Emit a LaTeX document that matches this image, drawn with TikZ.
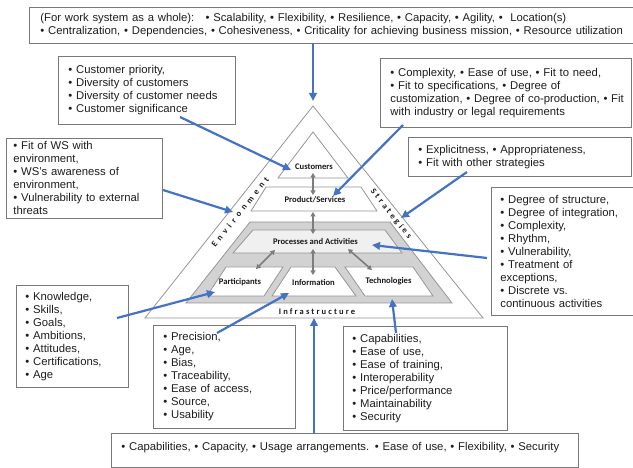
\documentclass[tikz,border=0pt]{standalone}
\usepackage{fontspec}
\setmainfont{Liberation Sans}
\newfontfamily\labelfont{Carlito}
\usetikzlibrary{arrows.meta}

\definecolor{wsblue}{RGB}{68,114,196}
\definecolor{boxgray}{RGB}{120,120,120}
\definecolor{linegray}{RGB}{150,150,150}
\definecolor{bandgray}{RGB}{210,210,210}
\definecolor{procgray}{RGB}{240,240,240}
\definecolor{linkgray}{RGB}{125,125,125}
\definecolor{textgray}{RGB}{30,30,30}

\begin{document}
\begin{tikzpicture}[x=1pt, y=-1pt,
    attrbox/.style={draw=boxgray, fill=white, line width=0.9pt, anchor=north west, align=left,
        inner ysep=0pt, inner xsep=#1, text=textgray, font=\fontsize{11.3}{13}\selectfont},
    attrbox/.default=10pt,
    part/.style={draw=linegray, line width=0.8pt, fill=white},
    partlabel/.style={font=\labelfont\bfseries\fontsize{8.6}{10}\selectfont, text=black!90, inner sep=1pt},
    sidelabel/.style={font=\labelfont\bfseries\fontsize{8.5}{10}\selectfont\addfontfeature{LetterSpace=#1},
        text=black!90, inner sep=1pt},
    link/.style={draw=linkgray, line width=1.6pt, {Triangle[length=4.5pt,width=5pt]}-{Triangle[length=4.5pt,width=5pt]}},
    pointer/.style={draw=wsblue, line width=2.2pt, -{Triangle[length=8pt,width=7.5pt]}}]

    \useasboundingbox (0,0) rectangle (633,468);
    \fill[white] (0,0) rectangle (633,468);

    % pyramid
    \draw[part] (313,106) -- (483,318) -- (145,318) -- cycle;
    \draw[part, fill=bandgray] (250,222) -- (390,222) -- (452,303) -- (186,303) -- cycle;
    \draw[part, fill=procgray] (253,230) -- (385,230) -- (402,253) -- (233,253) -- cycle;
    \draw[part] (313,132) -- (348,178) -- (278,178) -- cycle;
    \draw[part] (266,187) -- (361,187) -- (377,211) -- (251,211) -- cycle;
    \draw[part] (226,267) -- (283,267) -- (264,296) -- (207,296) -- cycle;
    \draw[part] (291,267) -- (335,267) -- (356,296) -- (272,296) -- cycle;
    \draw[part] (345,267) -- (413,267) -- (433,296) -- (365,296) -- cycle;

    \node[partlabel] (cust) at (314,167) {Customers};
    \node[partlabel] (prod) at (315,200) {Product/Services};
    \node[partlabel] (proc) at (315.5,242) {Processes and Activities};
    \node[partlabel] (part) at (240,282) {Participants};
    \node[partlabel] (info) at (313.5,282.5) {Information};
    \node[partlabel] (tech) at (388.5,281.5) {Technologies};

    \node[sidelabel=49, rotate=51.6] (env) at (240,212) {Environment};
    \node[sidelabel=34, rotate=-51.6] (strat) at (391,214) {Strategies};
    \node[sidelabel=25] (infra) at (317,312) {Infrastructure};

    % links inside the pyramid
    \coordinate (L1a) at (313,173); \coordinate (L1b) at (313,195);
    \coordinate (L2a) at (313,212); \coordinate (L2b) at (313,234);
    \coordinate (L3a) at (313,249); \coordinate (L3b) at (313,275);
    \coordinate (L4a) at (275,250); \coordinate (L4b) at (256,269);
    \coordinate (L5a) at (348,249); \coordinate (L5b) at (372,270);

    \begin{scope}[every edge/.style={link}]
        \path (L1a) edge (L1b);
        \path (L2a) edge (L2b);
        \path (L3a) edge (L3b);
        \path (L4a) edge (L4b);
        \path (L5a) edge (L5b);
    \end{scope}

    % characteristics boxes
    \node[attrbox=11pt, minimum width=605, minimum height=36, text width=583] (wholebox) at (29,7)
        {(For work system as a whole):\ \ \ • Scalability, • Flexibility, • Resilience, • Capacity, • Agility, •\ \ Location(s)\\
         • Centralization, • Dependencies, • Cohesiveness, • Criticality for achieving business mission, • Resource utilization};
    \node[attrbox, minimum width=177, minimum height=68, text width=157] (custbox) at (58,56)
        {• Customer priority,\\ • Diversity of customers\\ • Diversity of customer needs\\ • Customer significance};
    \node[attrbox, minimum width=251, minimum height=69, text width=231] (prodbox) at (380,58)
        {• Complexity, • Ease of use, • Fit to need,\\ • Fit to specifications, • Degree of\\
         \mbox{customization, • Degree of co-production, • Fit}\\ with industry or legal requirements};
    \node[attrbox, minimum width=223, minimum height=39, text width=203] (stratbox) at (408,137)
        {• Explicitness, • Appropriateness,\\ • Fit with other strategies};
    \node[attrbox=7pt, minimum width=156, minimum height=80, text width=142] (envbox) at (6,138)
        {• Fit of WS with\\ environment,\\ • WS's awareness of\\ environment,\\
         \makebox[140pt][s]{• Vulnerability to external}\\ threats};
    \node[attrbox=9pt, minimum width=144, minimum height=128, text width=126] (procbox) at (491,187)
        {• Degree of structure,\\ • Degree of integration,\\ • Complexity,\\ • Rhythm,\\ • Vulnerability,\\
         • Treatment of\\ exceptions,\\ • Discrete vs.\\ continuous activities};
    \node[attrbox=9pt, minimum width=112, minimum height=102, text width=94] (partbox) at (16,285)
        {• Knowledge,\\ • Skills,\\ • Goals,\\ • Ambitions,\\ • Attitudes,\\ • Certifications,\\ • Age};
    \node[attrbox, minimum width=142, minimum height=103, text width=122] (infobox) at (153,325)
        {• Precision,\\ • Age,\\ • Bias,\\ • Traceability,\\ • Ease of access,\\ • Source,\\ • Usability};
    \node[attrbox=9pt, minimum width=164, minimum height=104, text width=146] (techbox) at (343,326)
        {• Capabilities,\\ • Ease of use,\\ • Ease of training,\\ • Interoperability\\ • Price/performance\\
         • Maintainability\\ • Security};
    \node[attrbox, minimum width=467, minimum height=34, text width=447, text depth=8pt] (infrabox) at (111,433)
        {• Capabilities, • Capacity, • Usage arrangements. • Ease of use, • Flexibility, • Security};

    % pointers from boxes to the pyramid
    \coordinate (whole-s) at (313,43);  \coordinate (whole-t) at (313,101);
    \coordinate (cust-s) at (180,117);  \coordinate (cust-t) at (291,170);
    \coordinate (prod-s) at (403,125);  \coordinate (prod-t) at (333,196);
    \coordinate (strat-s) at (467,172); \coordinate (strat-t) at (401,218);
    \coordinate (env-s) at (163,190);   \coordinate (env-t) at (233,212);
    \coordinate (proc-s) at (487,258);  \coordinate (proc-t) at (372,245);
    \coordinate (part-s) at (117,318);  \coordinate (part-t) at (215,292);
    \coordinate (info-s) at (217,333);  \coordinate (info-t) at (289,293);
    \coordinate (tech-s) at (396,333);  \coordinate (tech-t) at (392,299);
    \coordinate (infra-s) at (314,434); \coordinate (infra-t) at (314,318);

    \begin{scope}[every edge/.style={pointer}]
        \path (whole-s) edge (whole-t);
        \path (cust-s) edge (cust-t);
        \path (prod-s) edge (prod-t);
        \path (strat-s) edge (strat-t);
        \path (env-s) edge (env-t);
        \path (proc-s) edge (proc-t);
        \path (part-s) edge (part-t);
        \path (info-s) edge (info-t);
        \path (tech-s) edge (tech-t);
        \path (infra-s) edge (infra-t);
    \end{scope}
\end{tikzpicture}
\end{document}
